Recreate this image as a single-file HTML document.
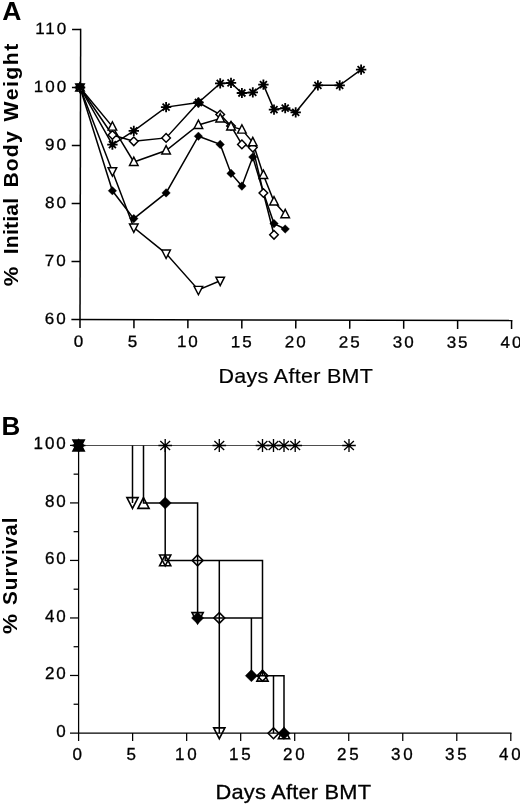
<!DOCTYPE html>
<html lang="en"><head><meta charset="utf-8"><title>Body weight and survival after BMT</title>
<style>html,body{margin:0;padding:0;background:#fff}svg{display:block;will-change:transform}text{font-family:"Liberation Sans",sans-serif;fill:#000}</style></head><body>
<svg width="520" height="806" viewBox="0 0 520 806">
<rect width="520" height="806" fill="#fff"/>
<g id="panelA">
<text x="2.2" y="19.6" font-size="26.5" font-weight="bold" letter-spacing="0" text-anchor="start" >A</text>
<g transform="rotate(0.13 80 319.6)">
<line x1="80" y1="28.75" x2="80" y2="328.1" stroke="#000" stroke-width="1.5"/>
<line x1="71.4" y1="319.6" x2="512.35" y2="319.6" stroke="#000" stroke-width="1.5"/>
<line x1="71.4" y1="29.5" x2="80" y2="29.5" stroke="#000" stroke-width="1.5"/>
<line x1="71.4" y1="87.52" x2="80" y2="87.52" stroke="#000" stroke-width="1.5"/>
<line x1="71.4" y1="145.54" x2="80" y2="145.54" stroke="#000" stroke-width="1.5"/>
<line x1="71.4" y1="203.56" x2="80" y2="203.56" stroke="#000" stroke-width="1.5"/>
<line x1="71.4" y1="261.58" x2="80" y2="261.58" stroke="#000" stroke-width="1.5"/>
<line x1="133.95" y1="319.6" x2="133.95" y2="328.1" stroke="#000" stroke-width="1.5"/>
<line x1="187.9" y1="319.6" x2="187.9" y2="328.1" stroke="#000" stroke-width="1.5"/>
<line x1="241.85" y1="319.6" x2="241.85" y2="328.1" stroke="#000" stroke-width="1.5"/>
<line x1="295.8" y1="319.6" x2="295.8" y2="328.1" stroke="#000" stroke-width="1.5"/>
<line x1="349.75" y1="319.6" x2="349.75" y2="328.1" stroke="#000" stroke-width="1.5"/>
<line x1="403.7" y1="319.6" x2="403.7" y2="328.1" stroke="#000" stroke-width="1.5"/>
<line x1="457.65" y1="319.6" x2="457.65" y2="328.1" stroke="#000" stroke-width="1.5"/>
<line x1="511.6" y1="319.6" x2="511.6" y2="328.1" stroke="#000" stroke-width="1.5"/>
<text transform="translate(67.59 34) scale(1.05 1)" font-size="16.2" font-weight="normal" letter-spacing="1.9" text-anchor="end" stroke="#000" stroke-width="0.3">110</text>
<text transform="translate(67.59 92.02) scale(1.05 1)" font-size="16.2" font-weight="normal" letter-spacing="1.9" text-anchor="end" stroke="#000" stroke-width="0.3">100</text>
<text transform="translate(67.59 150.04) scale(1.05 1)" font-size="16.2" font-weight="normal" letter-spacing="1.9" text-anchor="end" stroke="#000" stroke-width="0.3">90</text>
<text transform="translate(67.59 208.06) scale(1.05 1)" font-size="16.2" font-weight="normal" letter-spacing="1.9" text-anchor="end" stroke="#000" stroke-width="0.3">80</text>
<text transform="translate(67.59 266.08) scale(1.05 1)" font-size="16.2" font-weight="normal" letter-spacing="1.9" text-anchor="end" stroke="#000" stroke-width="0.3">70</text>
<text transform="translate(67.59 324.1) scale(1.05 1)" font-size="16.2" font-weight="normal" letter-spacing="1.9" text-anchor="end" stroke="#000" stroke-width="0.3">60</text>
<text transform="translate(79.6 346.8) scale(1.05 1)" font-size="16.2" font-weight="normal" letter-spacing="1.9" text-anchor="middle" stroke="#000" stroke-width="0.3">0</text>
<text transform="translate(133.55 346.8) scale(1.05 1)" font-size="16.2" font-weight="normal" letter-spacing="1.9" text-anchor="middle" stroke="#000" stroke-width="0.3">5</text>
<text transform="translate(188.4 346.8) scale(1.05 1)" font-size="16.2" font-weight="normal" letter-spacing="1.9" text-anchor="middle" stroke="#000" stroke-width="0.3">10</text>
<text transform="translate(242.35 346.8) scale(1.05 1)" font-size="16.2" font-weight="normal" letter-spacing="1.9" text-anchor="middle" stroke="#000" stroke-width="0.3">15</text>
<text transform="translate(296.3 346.8) scale(1.05 1)" font-size="16.2" font-weight="normal" letter-spacing="1.9" text-anchor="middle" stroke="#000" stroke-width="0.3">20</text>
<text transform="translate(350.25 346.8) scale(1.05 1)" font-size="16.2" font-weight="normal" letter-spacing="1.9" text-anchor="middle" stroke="#000" stroke-width="0.3">25</text>
<text transform="translate(404.2 346.8) scale(1.05 1)" font-size="16.2" font-weight="normal" letter-spacing="1.9" text-anchor="middle" stroke="#000" stroke-width="0.3">30</text>
<text transform="translate(458.15 346.8) scale(1.05 1)" font-size="16.2" font-weight="normal" letter-spacing="1.9" text-anchor="middle" stroke="#000" stroke-width="0.3">35</text>
<text transform="translate(512.1 346.8) scale(1.05 1)" font-size="16.2" font-weight="normal" letter-spacing="1.9" text-anchor="middle" stroke="#000" stroke-width="0.3">40</text>
</g>
<text transform="translate(295.85 382.8) scale(1.085 1)" font-size="19.8" font-weight="normal" letter-spacing="0.3" text-anchor="middle" stroke="#000" stroke-width="0.2">Days After BMT</text>
<text transform="translate(18.2 286.3) rotate(-90) scale(1.1 1)" font-size="20" font-weight="bold" letter-spacing="0">%</text>
<text transform="translate(18.2 254.2) rotate(-90) scale(1.06 1)" font-size="20" font-weight="bold" letter-spacing="0.15">Initial</text>
<text transform="translate(18.2 187.6) rotate(-90) scale(1.06 1)" font-size="20" font-weight="bold" letter-spacing="1.05">Body</text>
<text transform="translate(18.2 121.4) rotate(-90) scale(1.06 1)" font-size="20" font-weight="bold" letter-spacing="1.4">Weight</text>
<polyline points="80,87.5 112.4,171.2 133.8,227.5 166.1,253.6 198.4,289.9 220.2,280.7" fill="none" stroke="#000" stroke-width="1.5" stroke-linejoin="miter"/>
<polyline points="80,87.5 112.4,190.8 133.8,218.6 166.1,192.9 198.4,136.25 220.2,144.4 231,173.4 241.9,186.1 252.8,157.1 263.4,192.6 274,223.6 285.2,229" fill="none" stroke="#000" stroke-width="1.5" stroke-linejoin="miter"/>
<polyline points="80,87.5 112.4,126.6 133.8,162 166.1,150.5 198.4,125 220.2,118.5 231,126.4 241.9,129.6 252.8,142.3 263.4,175 274,201.5 285.2,214.2" fill="none" stroke="#000" stroke-width="1.5" stroke-linejoin="miter"/>
<polyline points="80,87.5 112.4,135 133.8,141.3 166.1,137.9 198.4,102.5 220.2,114.5 231,126 241.9,144.4 252.8,147.6 263.4,193 274,234.8" fill="none" stroke="#000" stroke-width="1.5" stroke-linejoin="miter"/>
<polyline points="80,87.5 112.4,144.6 133.8,130.8 166.1,107.1 198.4,102.5 220.2,83.4 231,82.9 241.9,93 252.8,92.4 263.4,84.6 274,109.6 285.2,108.1 295.7,112.3 317.9,85.3 339.7,85.3 361.1,69.6" fill="none" stroke="#000" stroke-width="1.5" stroke-linejoin="miter"/>
<path d="M75.7 83.97L84.3 83.97L80 92.37Z" fill="#fff" stroke="#000" stroke-width="1.45"/>
<path d="M108.1 167.67L116.7 167.67L112.4 176.07Z" fill="#fff" stroke="#000" stroke-width="1.45"/>
<path d="M129.5 223.97L138.1 223.97L133.8 232.37Z" fill="#fff" stroke="#000" stroke-width="1.45"/>
<path d="M161.8 250.07L170.4 250.07L166.1 258.47Z" fill="#fff" stroke="#000" stroke-width="1.45"/>
<path d="M194.1 286.37L202.7 286.37L198.4 294.77Z" fill="#fff" stroke="#000" stroke-width="1.45"/>
<path d="M215.9 277.17L224.5 277.17L220.2 285.57Z" fill="#fff" stroke="#000" stroke-width="1.45"/>
<path d="M80 83.2L84.3 87.5L80 91.8L75.7 87.5Z" fill="#000" stroke="#000" stroke-width="0.3"/>
<path d="M112.4 186.5L116.7 190.8L112.4 195.1L108.1 190.8Z" fill="#000" stroke="#000" stroke-width="0.3"/>
<path d="M133.8 214.3L138.1 218.6L133.8 222.9L129.5 218.6Z" fill="#000" stroke="#000" stroke-width="0.3"/>
<path d="M166.1 188.6L170.4 192.9L166.1 197.2L161.8 192.9Z" fill="#000" stroke="#000" stroke-width="0.3"/>
<path d="M198.4 131.95L202.7 136.25L198.4 140.55L194.1 136.25Z" fill="#000" stroke="#000" stroke-width="0.3"/>
<path d="M220.2 140.1L224.5 144.4L220.2 148.7L215.9 144.4Z" fill="#000" stroke="#000" stroke-width="0.3"/>
<path d="M231 169.1L235.3 173.4L231 177.7L226.7 173.4Z" fill="#000" stroke="#000" stroke-width="0.3"/>
<path d="M241.9 181.8L246.2 186.1L241.9 190.4L237.6 186.1Z" fill="#000" stroke="#000" stroke-width="0.3"/>
<path d="M252.8 152.8L257.1 157.1L252.8 161.4L248.5 157.1Z" fill="#000" stroke="#000" stroke-width="0.3"/>
<path d="M263.4 188.3L267.7 192.6L263.4 196.9L259.1 192.6Z" fill="#000" stroke="#000" stroke-width="0.3"/>
<path d="M274 219.3L278.3 223.6L274 227.9L269.7 223.6Z" fill="#000" stroke="#000" stroke-width="0.3"/>
<path d="M285.2 224.7L289.5 229L285.2 233.3L280.9 229Z" fill="#000" stroke="#000" stroke-width="0.3"/>
<path d="M80 83.2L84.3 87.5L80 91.8L75.7 87.5Z" fill="#fff" stroke="#000" stroke-width="1.45"/>
<path d="M112.4 130.7L116.7 135L112.4 139.3L108.1 135Z" fill="#fff" stroke="#000" stroke-width="1.45"/>
<path d="M133.8 137L138.1 141.3L133.8 145.6L129.5 141.3Z" fill="#fff" stroke="#000" stroke-width="1.45"/>
<path d="M166.1 133.6L170.4 137.9L166.1 142.2L161.8 137.9Z" fill="#fff" stroke="#000" stroke-width="1.45"/>
<path d="M198.4 98.2L202.7 102.5L198.4 106.8L194.1 102.5Z" fill="#fff" stroke="#000" stroke-width="1.45"/>
<path d="M220.2 110.2L224.5 114.5L220.2 118.8L215.9 114.5Z" fill="#fff" stroke="#000" stroke-width="1.45"/>
<path d="M231 121.7L235.3 126L231 130.3L226.7 126Z" fill="#fff" stroke="#000" stroke-width="1.45"/>
<path d="M241.9 140.1L246.2 144.4L241.9 148.7L237.6 144.4Z" fill="#fff" stroke="#000" stroke-width="1.45"/>
<path d="M252.8 143.3L257.1 147.6L252.8 151.9L248.5 147.6Z" fill="#fff" stroke="#000" stroke-width="1.45"/>
<path d="M263.4 188.7L267.7 193L263.4 197.3L259.1 193Z" fill="#fff" stroke="#000" stroke-width="1.45"/>
<path d="M274 230.5L278.3 234.8L274 239.1L269.7 234.8Z" fill="#fff" stroke="#000" stroke-width="1.45"/>
<path d="M80 82.63L84.3 91.03L75.7 91.03Z" fill="#fff" stroke="#000" stroke-width="1.45"/>
<path d="M112.4 121.73L116.7 130.13L108.1 130.13Z" fill="#fff" stroke="#000" stroke-width="1.45"/>
<path d="M133.8 157.13L138.1 165.53L129.5 165.53Z" fill="#fff" stroke="#000" stroke-width="1.45"/>
<path d="M166.1 145.63L170.4 154.03L161.8 154.03Z" fill="#fff" stroke="#000" stroke-width="1.45"/>
<path d="M198.4 120.13L202.7 128.53L194.1 128.53Z" fill="#fff" stroke="#000" stroke-width="1.45"/>
<path d="M220.2 113.63L224.5 122.03L215.9 122.03Z" fill="#fff" stroke="#000" stroke-width="1.45"/>
<path d="M231 121.53L235.3 129.93L226.7 129.93Z" fill="#fff" stroke="#000" stroke-width="1.45"/>
<path d="M241.9 124.73L246.2 133.13L237.6 133.13Z" fill="#fff" stroke="#000" stroke-width="1.45"/>
<path d="M252.8 137.43L257.1 145.83L248.5 145.83Z" fill="#fff" stroke="#000" stroke-width="1.45"/>
<path d="M263.4 170.13L267.7 178.53L259.1 178.53Z" fill="#fff" stroke="#000" stroke-width="1.45"/>
<path d="M274 196.63L278.3 205.03L269.7 205.03Z" fill="#fff" stroke="#000" stroke-width="1.45"/>
<path d="M285.2 209.33L289.5 217.73L280.9 217.73Z" fill="#fff" stroke="#000" stroke-width="1.45"/>
<path d="M80 82.4V92.6M74.8 87.5H85.2M76.5 84L83.5 91M83.5 84L76.5 91" fill="none" stroke="#000" stroke-width="1.8"/>
<path d="M112.4 139.5V149.7M107.2 144.6H117.6M108.9 141.1L115.9 148.1M115.9 141.1L108.9 148.1" fill="none" stroke="#000" stroke-width="1.8"/>
<path d="M133.8 125.7V135.9M128.6 130.8H139M130.3 127.3L137.3 134.3M137.3 127.3L130.3 134.3" fill="none" stroke="#000" stroke-width="1.8"/>
<path d="M166.1 102V112.2M160.9 107.1H171.3M162.6 103.6L169.6 110.6M169.6 103.6L162.6 110.6" fill="none" stroke="#000" stroke-width="1.8"/>
<path d="M198.4 97.4V107.6M193.2 102.5H203.6M194.9 99L201.9 106M201.9 99L194.9 106" fill="none" stroke="#000" stroke-width="1.8"/>
<path d="M220.2 78.3V88.5M215 83.4H225.4M216.7 79.9L223.7 86.9M223.7 79.9L216.7 86.9" fill="none" stroke="#000" stroke-width="1.8"/>
<path d="M231 77.8V88M225.8 82.9H236.2M227.5 79.4L234.5 86.4M234.5 79.4L227.5 86.4" fill="none" stroke="#000" stroke-width="1.8"/>
<path d="M241.9 87.9V98.1M236.7 93H247.1M238.4 89.5L245.4 96.5M245.4 89.5L238.4 96.5" fill="none" stroke="#000" stroke-width="1.8"/>
<path d="M252.8 87.3V97.5M247.6 92.4H258M249.3 88.9L256.3 95.9M256.3 88.9L249.3 95.9" fill="none" stroke="#000" stroke-width="1.8"/>
<path d="M263.4 79.5V89.7M258.2 84.6H268.6M259.9 81.1L266.9 88.1M266.9 81.1L259.9 88.1" fill="none" stroke="#000" stroke-width="1.8"/>
<path d="M274 104.5V114.7M268.8 109.6H279.2M270.5 106.1L277.5 113.1M277.5 106.1L270.5 113.1" fill="none" stroke="#000" stroke-width="1.8"/>
<path d="M285.2 103V113.2M280 108.1H290.4M281.7 104.6L288.7 111.6M288.7 104.6L281.7 111.6" fill="none" stroke="#000" stroke-width="1.8"/>
<path d="M295.7 107.2V117.4M290.5 112.3H300.9M292.2 108.8L299.2 115.8M299.2 108.8L292.2 115.8" fill="none" stroke="#000" stroke-width="1.8"/>
<path d="M317.9 80.2V90.4M312.7 85.3H323.1M314.4 81.8L321.4 88.8M321.4 81.8L314.4 88.8" fill="none" stroke="#000" stroke-width="1.8"/>
<path d="M339.7 80.2V90.4M334.5 85.3H344.9M336.2 81.8L343.2 88.8M343.2 81.8L336.2 88.8" fill="none" stroke="#000" stroke-width="1.8"/>
<path d="M361.1 64.5V74.7M355.9 69.6H366.3M357.6 66.1L364.6 73.1M364.6 66.1L357.6 73.1" fill="none" stroke="#000" stroke-width="1.8"/>
</g>
<g id="panelB">
<text x="1.6" y="435.2" font-size="26" font-weight="bold" letter-spacing="0" text-anchor="start" >B</text>
<line x1="78.6" y1="444.7" x2="78.6" y2="741" stroke="#000" stroke-width="1.25"/>
<line x1="70" y1="733" x2="511.5" y2="733" stroke="#000" stroke-width="1.25"/>
<line x1="70" y1="445.4" x2="78.6" y2="445.4" stroke="#000" stroke-width="1.25"/>
<line x1="70" y1="502.92" x2="78.6" y2="502.92" stroke="#000" stroke-width="1.25"/>
<line x1="70" y1="560.44" x2="78.6" y2="560.44" stroke="#000" stroke-width="1.25"/>
<line x1="70" y1="617.96" x2="78.6" y2="617.96" stroke="#000" stroke-width="1.25"/>
<line x1="70" y1="675.48" x2="78.6" y2="675.48" stroke="#000" stroke-width="1.25"/>
<line x1="73.6" y1="474.16" x2="78.6" y2="474.16" stroke="#000" stroke-width="1.25"/>
<line x1="73.6" y1="531.68" x2="78.6" y2="531.68" stroke="#000" stroke-width="1.25"/>
<line x1="73.6" y1="589.2" x2="78.6" y2="589.2" stroke="#000" stroke-width="1.25"/>
<line x1="73.6" y1="646.72" x2="78.6" y2="646.72" stroke="#000" stroke-width="1.25"/>
<line x1="73.6" y1="704.24" x2="78.6" y2="704.24" stroke="#000" stroke-width="1.25"/>
<line x1="132.62" y1="733" x2="132.62" y2="741" stroke="#000" stroke-width="1.25"/>
<line x1="186.65" y1="733" x2="186.65" y2="741" stroke="#000" stroke-width="1.25"/>
<line x1="240.68" y1="733" x2="240.68" y2="741" stroke="#000" stroke-width="1.25"/>
<line x1="294.7" y1="733" x2="294.7" y2="741" stroke="#000" stroke-width="1.25"/>
<line x1="348.73" y1="733" x2="348.73" y2="741" stroke="#000" stroke-width="1.25"/>
<line x1="402.75" y1="733" x2="402.75" y2="741" stroke="#000" stroke-width="1.25"/>
<line x1="456.78" y1="733" x2="456.78" y2="741" stroke="#000" stroke-width="1.25"/>
<line x1="510.8" y1="733" x2="510.8" y2="741" stroke="#000" stroke-width="1.25"/>
<text transform="translate(67.8 449.3) scale(1.05 1)" font-size="16.2" font-weight="normal" letter-spacing="1.9" text-anchor="end" stroke="#000" stroke-width="0.3">100</text>
<text transform="translate(67.8 506.82) scale(1.05 1)" font-size="16.2" font-weight="normal" letter-spacing="1.9" text-anchor="end" stroke="#000" stroke-width="0.3">80</text>
<text transform="translate(67.8 564.34) scale(1.05 1)" font-size="16.2" font-weight="normal" letter-spacing="1.9" text-anchor="end" stroke="#000" stroke-width="0.3">60</text>
<text transform="translate(67.8 621.86) scale(1.05 1)" font-size="16.2" font-weight="normal" letter-spacing="1.9" text-anchor="end" stroke="#000" stroke-width="0.3">40</text>
<text transform="translate(67.8 679.38) scale(1.05 1)" font-size="16.2" font-weight="normal" letter-spacing="1.9" text-anchor="end" stroke="#000" stroke-width="0.3">20</text>
<text transform="translate(67.8 736.9) scale(1.05 1)" font-size="16.2" font-weight="normal" letter-spacing="1.9" text-anchor="end" stroke="#000" stroke-width="0.3">0</text>
<text transform="translate(78.6 760.4) scale(1.05 1)" font-size="16.2" font-weight="normal" letter-spacing="2.5999999999999996" text-anchor="middle" stroke="#000" stroke-width="0.3">0</text>
<text transform="translate(132.62 760.4) scale(1.05 1)" font-size="16.2" font-weight="normal" letter-spacing="2.5999999999999996" text-anchor="middle" stroke="#000" stroke-width="0.3">5</text>
<text transform="translate(187.15 760.4) scale(1.05 1)" font-size="16.2" font-weight="normal" letter-spacing="2.5999999999999996" text-anchor="middle" stroke="#000" stroke-width="0.3">10</text>
<text transform="translate(241.18 760.4) scale(1.05 1)" font-size="16.2" font-weight="normal" letter-spacing="2.5999999999999996" text-anchor="middle" stroke="#000" stroke-width="0.3">15</text>
<text transform="translate(295.2 760.4) scale(1.05 1)" font-size="16.2" font-weight="normal" letter-spacing="2.5999999999999996" text-anchor="middle" stroke="#000" stroke-width="0.3">20</text>
<text transform="translate(349.23 760.4) scale(1.05 1)" font-size="16.2" font-weight="normal" letter-spacing="2.5999999999999996" text-anchor="middle" stroke="#000" stroke-width="0.3">25</text>
<text transform="translate(403.25 760.4) scale(1.05 1)" font-size="16.2" font-weight="normal" letter-spacing="2.5999999999999996" text-anchor="middle" stroke="#000" stroke-width="0.3">30</text>
<text transform="translate(457.28 760.4) scale(1.05 1)" font-size="16.2" font-weight="normal" letter-spacing="2.5999999999999996" text-anchor="middle" stroke="#000" stroke-width="0.3">35</text>
<text transform="translate(511.3 760.4) scale(1.05 1)" font-size="16.2" font-weight="normal" letter-spacing="2.5999999999999996" text-anchor="middle" stroke="#000" stroke-width="0.3">40</text>
<text transform="translate(293.4 798.9) scale(1.08 1)" font-size="20.2" font-weight="normal" letter-spacing="0.2" text-anchor="middle" stroke="#000" stroke-width="0.3">Days After BMT</text>
<text transform="translate(17 634) rotate(-90) scale(1.1 1)" font-size="20.5" font-weight="bold" letter-spacing="0">%</text>
<text transform="translate(17 605) rotate(-90) scale(1.01 1)" font-size="20.5" font-weight="bold" letter-spacing="1.0">Survival</text>
<line x1="78.6" y1="445.5" x2="349" y2="445.5" stroke="#3a3a3a" stroke-width="0.9"/>
<polyline points="132.5,445.5 132.5,503" fill="none" stroke="#000" stroke-width="1.5" stroke-linejoin="miter"/>
<polyline points="143.5,445.5 143.5,503 197.6,503 197.6,618" fill="none" stroke="#000" stroke-width="1.5" stroke-linejoin="miter"/>
<polyline points="165.2,445.5 165.2,560.4 262.5,560.4 262.5,675.7" fill="none" stroke="#000" stroke-width="1.5" stroke-linejoin="miter"/>
<polyline points="219.3,560.4 219.3,733.3" fill="none" stroke="#000" stroke-width="1.5" stroke-linejoin="miter"/>
<polyline points="197.6,618 262.5,618" fill="none" stroke="#000" stroke-width="1.5" stroke-linejoin="miter"/>
<polyline points="251.4,618 251.4,675.7 284,675.7 284,733.3" fill="none" stroke="#000" stroke-width="1.5" stroke-linejoin="miter"/>
<polyline points="273.5,675.7 273.5,733.3" fill="none" stroke="#000" stroke-width="1.5" stroke-linejoin="miter"/>
<path d="M73 440.1L84.2 440.1L78.6 450.9Z" fill="#000" stroke="#000" stroke-width="1.5999999999999999"/>
<path d="M78.6 440.1L84.2 450.9L73 450.9Z" fill="#000" stroke="#000" stroke-width="1.5999999999999999"/>
<path d="M78.6 439.5L84.6 445.5L78.6 451.5L72.6 445.5Z" fill="#000" stroke="#000" stroke-width="0.4"/>
<path d="M78.6 439.1V451.9M71.8 445.5H85.4M73.7 441.1L83.5 449.9M83.5 441.1L73.7 449.9" fill="none" stroke="#000" stroke-width="1.35"/>
<path d="M165.2 439.1V451.9M158.4 445.5H172M160.3 441.1L170.1 449.9M170.1 441.1L160.3 449.9" fill="none" stroke="#000" stroke-width="1.35"/>
<path d="M219.3 439.1V451.9M212.5 445.5H226.1M214.4 441.1L224.2 449.9M224.2 441.1L214.4 449.9" fill="none" stroke="#000" stroke-width="1.35"/>
<path d="M262.5 439.1V451.9M255.7 445.5H269.3M257.6 441.1L267.4 449.9M267.4 441.1L257.6 449.9" fill="none" stroke="#000" stroke-width="1.35"/>
<path d="M273.5 439.1V451.9M266.7 445.5H280.3M268.6 441.1L278.4 449.9M278.4 441.1L268.6 449.9" fill="none" stroke="#000" stroke-width="1.35"/>
<path d="M284 439.1V451.9M277.2 445.5H290.8M279.1 441.1L288.9 449.9M288.9 441.1L279.1 449.9" fill="none" stroke="#000" stroke-width="1.35"/>
<path d="M295.2 439.1V451.9M288.4 445.5H302M290.3 441.1L300.1 449.9M300.1 441.1L290.3 449.9" fill="none" stroke="#000" stroke-width="1.35"/>
<path d="M349 439.1V451.9M342.2 445.5H355.8M344.1 441.1L353.9 449.9M353.9 441.1L344.1 449.9" fill="none" stroke="#000" stroke-width="1.35"/>
<path d="M126.9 497.6L138.1 497.6L132.5 508.4Z" fill="none" stroke="#000" stroke-width="1.5999999999999999"/>
<path d="M159.6 555L170.8 555L165.2 565.8Z" fill="none" stroke="#000" stroke-width="1.5999999999999999"/>
<path d="M192 612.6L203.2 612.6L197.6 623.4Z" fill="none" stroke="#000" stroke-width="1.5999999999999999"/>
<path d="M213.7 727.9L224.9 727.9L219.3 738.7Z" fill="none" stroke="#000" stroke-width="1.5999999999999999"/>
<path d="M143.5 497.6L149.1 508.4L137.9 508.4Z" fill="none" stroke="#000" stroke-width="1.5999999999999999"/>
<path d="M165.2 555L170.8 565.8L159.6 565.8Z" fill="none" stroke="#000" stroke-width="1.5999999999999999"/>
<path d="M262.5 670.3L268.1 681.1L256.9 681.1Z" fill="none" stroke="#000" stroke-width="1.5999999999999999"/>
<path d="M284 727.9L289.6 738.7L278.4 738.7Z" fill="none" stroke="#000" stroke-width="1.5999999999999999"/>
<path d="M165.2 496.9L171.3 503L165.2 509.1L159.1 503Z" fill="#000" stroke="#000" stroke-width="0.4"/>
<path d="M197.6 611.9L203.7 618L197.6 624.1L191.5 618Z" fill="#000" stroke="#000" stroke-width="0.4"/>
<path d="M251.4 669.6L257.5 675.7L251.4 681.8L245.3 675.7Z" fill="#000" stroke="#000" stroke-width="0.4"/>
<path d="M284 727.2L290.1 733.3L284 739.4L277.9 733.3Z" fill="#000" stroke="#000" stroke-width="0.4"/>
<path d="M197.6 555L203 560.4L197.6 565.8L192.2 560.4Z" fill="none" stroke="#000" stroke-width="1.5999999999999999"/>
<path d="M219.3 612.6L224.7 618L219.3 623.4L213.9 618Z" fill="none" stroke="#000" stroke-width="1.5999999999999999"/>
<path d="M262.5 670.3L267.9 675.7L262.5 681.1L257.1 675.7Z" fill="none" stroke="#000" stroke-width="1.5999999999999999"/>
<path d="M273.5 727.9L278.9 733.3L273.5 738.7L268.1 733.3Z" fill="none" stroke="#000" stroke-width="1.5999999999999999"/>
</g>
</svg></body></html>
